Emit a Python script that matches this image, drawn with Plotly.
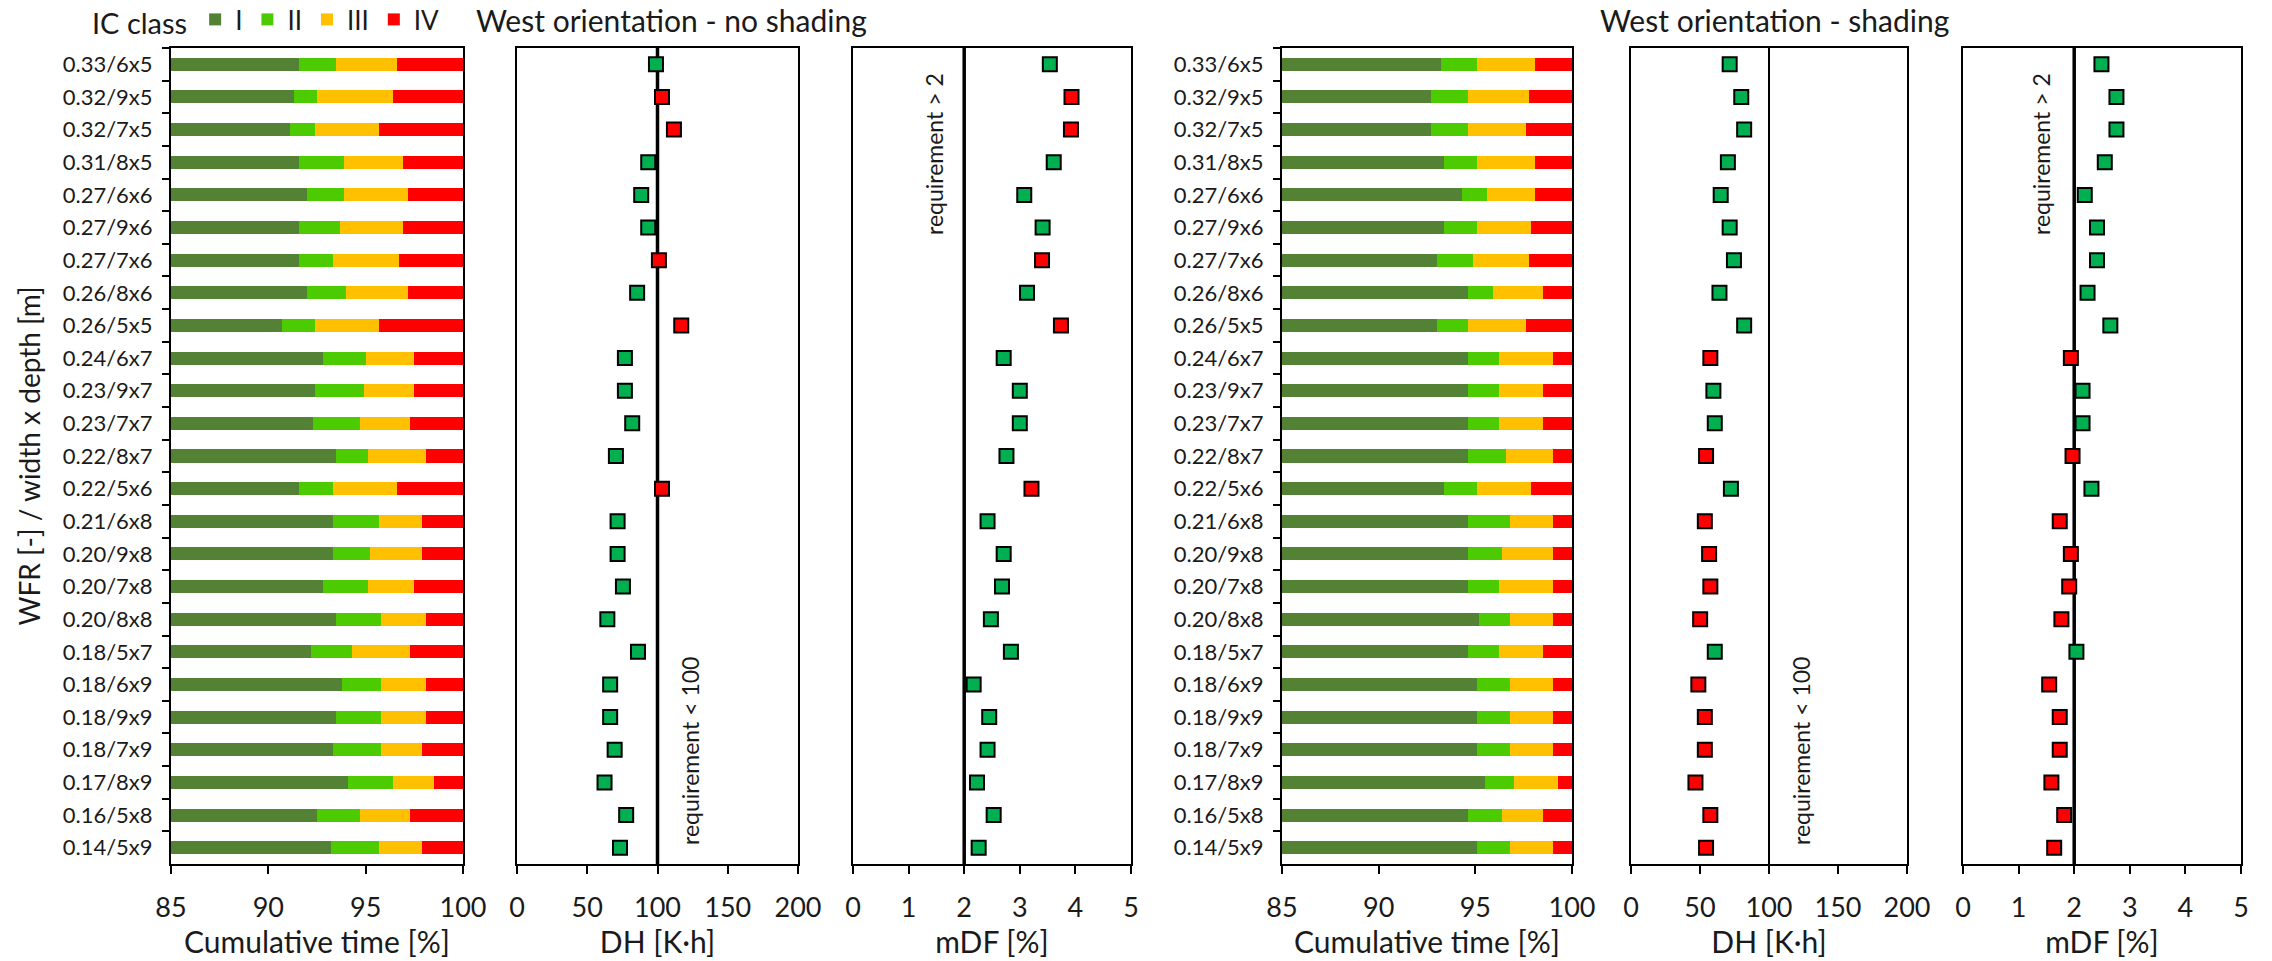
import plotly.graph_objects as go

categories = ["0.33/6x5", "0.32/9x5", "0.32/7x5", "0.31/8x5", "0.27/6x6", "0.27/9x6",
              "0.27/7x6", "0.26/8x6", "0.26/5x5", "0.24/6x7", "0.23/9x7", "0.23/7x7",
              "0.22/8x7", "0.22/5x6", "0.21/6x8", "0.20/9x8", "0.20/7x8", "0.20/8x8",
              "0.18/5x7", "0.18/6x9", "0.18/9x9", "0.18/7x9", "0.17/8x9", "0.16/5x8",
              "0.14/5x9"]
class_names = ["I", "II", "III", "IV"]

# West orientation - no shading : share of time in IC class [%]
ns_I   = [91.6, 91.3, 91.1, 91.6, 92.0, 91.6, 91.6, 92.0, 90.7, 92.8, 92.4, 92.3, 93.5,
          91.6, 93.3, 93.3, 92.8, 93.5, 92.2, 93.8, 93.5, 93.3, 94.1, 92.5, 93.2]
ns_II  = [1.9, 1.2, 1.3, 2.3, 1.9, 2.1, 1.7, 2.0, 1.7, 2.2, 2.5, 2.4, 1.6,
          1.7, 2.4, 1.9, 2.3, 2.3, 2.1, 2.0, 2.3, 2.5, 2.3, 2.2, 2.5]
ns_III = [3.1, 3.9, 3.3, 3.0, 3.3, 3.2, 3.4, 3.2, 3.3, 2.5, 2.6, 2.6, 3.0,
          3.3, 2.2, 2.7, 2.4, 2.3, 3.0, 2.3, 2.3, 2.1, 2.1, 2.6, 2.2]
ns_IV  = [3.4, 3.6, 4.3, 3.1, 2.8, 3.1, 3.3, 2.8, 4.3, 2.5, 2.5, 2.7, 1.9,
          3.4, 2.1, 2.1, 2.5, 1.9, 2.7, 1.9, 1.9, 2.1, 1.5, 2.7, 2.1]
ns_DH  = [98.9, 103.2, 111.7, 93.4, 88.4, 93.4, 101.0, 85.5, 116.9, 76.8, 76.8, 82.0, 70.4,
          103.2, 71.6, 71.6, 75.4, 64.3, 86.1, 66.3, 66.3, 69.5, 62.3, 77.7, 73.3]
ns_mDF = [3.54, 3.93, 3.92, 3.61, 3.08, 3.41, 3.40, 3.13, 3.74, 2.71, 3.00, 3.00, 2.76,
          3.21, 2.42, 2.71, 2.68, 2.48, 2.84, 2.17, 2.45, 2.42, 2.23, 2.53, 2.26]

# West orientation - shading
sh_I   = [93.2, 92.7, 92.7, 93.4, 94.3, 93.4, 93.0, 94.6, 93.0, 94.6, 94.6, 94.6, 94.6,
          93.4, 94.6, 94.6, 94.6, 95.2, 94.6, 95.1, 95.1, 95.1, 95.5, 94.6, 95.1]
sh_II  = [1.9, 1.9, 1.9, 1.7, 1.3, 1.7, 1.9, 1.3, 1.6, 1.6, 1.6, 1.6, 2.0,
          1.7, 2.2, 1.8, 1.6, 1.6, 1.6, 1.7, 1.7, 1.7, 1.5, 1.8, 1.7]
sh_III = [3.0, 3.2, 3.0, 3.0, 2.5, 2.8, 2.9, 2.6, 3.0, 2.8, 2.3, 2.3, 2.4,
          2.8, 2.2, 2.6, 2.8, 2.2, 2.3, 2.2, 2.2, 2.2, 2.3, 2.1, 2.2]
sh_IV  = [1.9, 2.2, 2.4, 1.9, 1.9, 2.1, 2.2, 1.5, 2.4, 1.0, 1.5, 1.5, 1.0,
          2.1, 1.0, 1.0, 1.0, 1.0, 1.5, 1.0, 1.0, 1.0, 0.7, 1.5, 1.0]
sh_DH  = [71.5, 79.9, 82.0, 70.2, 65.0, 71.5, 74.6, 64.1, 82.0, 57.5, 59.7, 60.7, 54.4,
          72.4, 53.5, 56.6, 57.5, 50.1, 60.7, 48.8, 53.5, 53.5, 46.7, 57.5, 54.4]
sh_mDF = [2.49, 2.76, 2.76, 2.55, 2.19, 2.41, 2.41, 2.24, 2.65, 1.94, 2.15, 2.15, 1.97,
          2.31, 1.74, 1.94, 1.91, 1.77, 2.04, 1.55, 1.74, 1.74, 1.59, 1.82, 1.64]

DH_LIMIT = 100
MDF_LIMIT = 2

W, H = 2272, 961
FONT = "Lato"
TXT = "#1a1a1a"
class_colors = ["#548235", "#4CCC00", "#FFC000", "#FF0000"]
PASS, FAIL = "#00B050", "#FF0000"

def px_dom(a, b):
    return [a / W, b / W]

ydom = [1 - 864 / H, 1 - 48 / H]
xdoms = [px_dom(171, 463), px_dom(517, 798), px_dom(853, 1131),
         px_dom(1282, 1572), px_dom(1631, 1907), px_dom(1963, 2241)]

fig = go.Figure()

def add_bars(shares, axis_idx, legend):
    xa = "x" if axis_idx == 1 else f"x{axis_idx}"
    ya = "y" if axis_idx == 1 else f"y{axis_idx}"
    for name, vals, col in zip(class_names, shares, class_colors):
        fig.add_trace(go.Bar(
            y=categories, x=vals, orientation="h", name=name, marker_color=col,
            marker_line_width=0, xaxis=xa, yaxis=ya, showlegend=legend,
            legendgroup=name))

def add_points(vals, ok, axis_idx):
    xa = f"x{axis_idx}"
    ya = f"y{axis_idx}"
    fig.add_trace(go.Scatter(
        x=vals, y=categories, mode="markers", xaxis=xa, yaxis=ya, showlegend=False,
        marker=dict(symbol="square", size=14,
                    color=[PASS if o else FAIL for o in ok],
                    line=dict(color="black", width=2))))

ns_ok = [(d < DH_LIMIT) and (m > MDF_LIMIT) for d, m in zip(ns_DH, ns_mDF)]
sh_ok = [(d < DH_LIMIT) and (m > MDF_LIMIT) for d, m in zip(sh_DH, sh_mDF)]

add_bars([ns_I, ns_II, ns_III, ns_IV], 1, True)
add_points(ns_DH, ns_ok, 2)
add_points(ns_mDF, ns_ok, 3)
add_bars([sh_I, sh_II, sh_III, sh_IV], 4, False)
add_points(sh_DH, sh_ok, 5)
add_points(sh_mDF, sh_ok, 6)

tickfont = dict(family=FONT, size=27, color=TXT)
titlefont = dict(family=FONT, size=30, color=TXT)

xcfg = {
    1: dict(range=[85, 100], dtick=5, title="Cumulative time [%]"),
    2: dict(range=[0, 200], dtick=50, title="DH [K·h]"),
    3: dict(range=[0, 5], dtick=1, title="mDF [%]"),
    4: dict(range=[85, 100], dtick=5, title="Cumulative time [%]"),
    5: dict(range=[0, 200], dtick=50, title="DH [K·h]"),
    6: dict(range=[0, 5], dtick=1, title="mDF [%]"),
}

n_cat = len(categories)
layout = {}
for i in range(1, 7):
    xk = "xaxis" if i == 1 else f"xaxis{i}"
    yk = "yaxis" if i == 1 else f"yaxis{i}"
    c = xcfg[i]
    layout[xk] = dict(
        domain=xdoms[i - 1], anchor="y" if i == 1 else f"y{i}",
        range=c["range"], dtick=c["dtick"], tick0=0, automargin=False,
        showline=True, mirror=True, linecolor="black", linewidth=2,
        ticks="outside", ticklen=8, tickwidth=2, tickcolor="black",
        showgrid=False, zeroline=False, tickfont=tickfont, ticklabelstandoff=11,
        title=dict(text=c["title"], font=titlefont, standoff=8), fixedrange=True)
    ydict = dict(
        domain=ydom, anchor="x" if i == 1 else f"x{i}", automargin=False,
        type="category", categoryorder="array", categoryarray=categories,
        range=[n_cat - 0.5, -0.5],
        showline=True, mirror=True, linecolor="black", linewidth=2,
        showgrid=False, zeroline=False, fixedrange=True)
    if i in (1, 4):
        ydict.update(ticks="outside", tickson="boundaries", ticklen=7, tickwidth=2,
                     tickcolor="black", showticklabels=True,
                     tickfont=dict(family=FONT, size=22, color=TXT),
                     ticklabelstandoff=12)
    else:
        ydict.update(ticks="", showticklabels=False)
    if i == 1:
        ydict["title"] = dict(text="WFR [-] / width x depth [m]",
                              font=dict(family=FONT, size=28, color=TXT), standoff=14)
    layout[yk] = ydict

shapes = []
for xa, val, w in (("x2", DH_LIMIT, 3.5), ("x3", MDF_LIMIT, 3.5),
                   ("x5", DH_LIMIT, 2), ("x6", MDF_LIMIT, 3.5)):
    ya = xa.replace("x", "y")
    shapes.append(dict(type="line", xref=xa, yref=f"{ya} domain", x0=val, x1=val,
                       y0=0, y1=1, line=dict(color="black", width=w), layer="below"))

annfont = dict(family=FONT, size=23, color=TXT)
annotations = [
    dict(text="West orientation - no shading", x=474 / W, y=1 - 20 / H, xref="paper",
         yref="paper", xanchor="left", yanchor="middle", showarrow=False,
         font=dict(family=FONT, size=30, color=TXT)),
    dict(text="West orientation - shading", x=1598 / W, y=1 - 20 / H, xref="paper",
         yref="paper", xanchor="left", yanchor="middle", showarrow=False,
         font=dict(family=FONT, size=30, color=TXT)),
    dict(text="requirement < 100", x=690 / W, y=1 - 847 / H, xref="paper", yref="paper",
         xanchor="center", yanchor="bottom", textangle=-90, showarrow=False, font=annfont),
    dict(text="requirement < 100", x=1801 / W, y=1 - 847 / H, xref="paper", yref="paper",
         xanchor="center", yanchor="bottom", textangle=-90, showarrow=False, font=annfont),
    dict(text="requirement > 2", x=934 / W, y=1 - 71 / H, xref="paper", yref="paper",
         xanchor="center", yanchor="top", textangle=-90, showarrow=False, font=annfont),
    dict(text="requirement > 2", x=2041 / W, y=1 - 71 / H, xref="paper", yref="paper",
         xanchor="center", yanchor="top", textangle=-90, showarrow=False, font=annfont),
]

fig.update_layout(
    **layout,
    width=W, height=H,
    margin=dict(l=0, r=0, t=0, b=0, autoexpand=False),
    paper_bgcolor="white", plot_bgcolor="white",
    barmode="stack", bargap=0.6,
    font=dict(family=FONT, size=24, color=TXT),
    shapes=shapes, annotations=annotations,
    legend=dict(orientation="h", x=90 / W, y=1 - 20 / H, xanchor="left", yanchor="middle",
                title=dict(text="IC class", font=dict(family=FONT, size=29, color=TXT)),
                font=dict(family=FONT, size=26, color=TXT), itemwidth=30,
                bgcolor="rgba(0,0,0,0)", tracegroupgap=0),
)

fig.write_html("out.html", config={"displayModeBar": False},
               post_script="document.body.style.margin='0';")
